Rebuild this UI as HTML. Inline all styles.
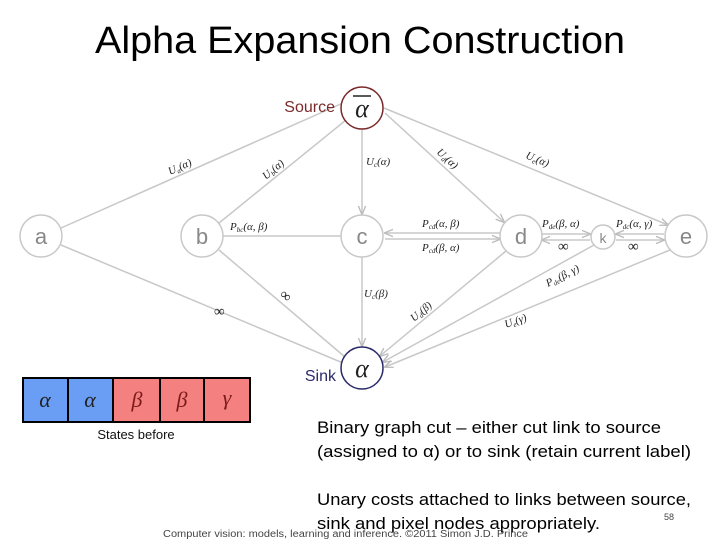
<!DOCTYPE html>
<html><head><meta charset="utf-8"><style>
html,body{margin:0;padding:0;background:#fff;width:720px;height:540px;overflow:hidden}
svg{display:block}
.t{font-family:"Liberation Sans",sans-serif}
.m{font-family:"Liberation Serif",serif;font-style:italic;font-size:11px;fill:#222}
</style></head><body>
<svg width="720" height="540" viewBox="0 0 720 540" xmlns="http://www.w3.org/2000/svg">
<defs><marker id="ar" viewBox="0 0 10 10" refX="9" refY="5" markerWidth="6" markerHeight="6" orient="auto"><path d="M0,1 L10,5 L0,9" fill="none" stroke="#bbb" stroke-width="1.5"/></marker></defs>
<text x="360" y="53" text-anchor="middle" class="t" font-size="38" fill="#000" textLength="530" lengthAdjust="spacingAndGlyphs">Alpha Expansion Construction</text>
<g stroke="#c8c8c8" stroke-width="1.5" fill="none">
<line x1="61" y1="228" x2="343" y2="103"/>
<line x1="219" y1="223" x2="346" y2="120"/>
<line x1="223" y1="236" x2="341" y2="236"/>
<line x1="61" y1="245" x2="343" y2="363"/>
<line x1="219" y1="250" x2="345" y2="357"/>
<line x1="362" y1="129" x2="362" y2="214" marker-end="url(#ar)"/>
<line x1="385" y1="113" x2="504" y2="222" marker-end="url(#ar)"/>
<line x1="384" y1="108" x2="668" y2="225" marker-end="url(#ar)"/>
<line x1="362" y1="257" x2="362" y2="346" marker-end="url(#ar)"/>
<line x1="506" y1="251" x2="380" y2="356" marker-end="url(#ar)"/>
<line x1="594" y1="245" x2="383" y2="362" marker-end="url(#ar)"/>
<line x1="670" y1="250" x2="385" y2="367" marker-end="url(#ar)"/>
<line x1="500" y1="233" x2="385" y2="233" marker-end="url(#ar)"/>
<line x1="385" y1="239" x2="500" y2="239" marker-end="url(#ar)"/>
<line x1="542" y1="234" x2="590" y2="234" marker-end="url(#ar)"/>
<line x1="590" y1="240" x2="542" y2="240" marker-end="url(#ar)"/>
<line x1="664" y1="234" x2="616" y2="234" marker-end="url(#ar)"/>
<line x1="616" y1="240" x2="664" y2="240" marker-end="url(#ar)"/>
</g>
<g fill="#fff" stroke="#c8c8c8" stroke-width="1.5">
<circle cx="41" cy="236" r="21"/><circle cx="202" cy="236" r="21"/><circle cx="362" cy="236" r="21"/>
<circle cx="521" cy="236" r="21"/><circle cx="603" cy="237" r="12"/><circle cx="686" cy="236" r="21"/>
</g>
<circle cx="362" cy="108" r="21" fill="#fff" stroke="#7a2a2a" stroke-width="1.5"/>
<circle cx="362" cy="368" r="21" fill="#fff" stroke="#2a2a6a" stroke-width="1.5"/>
<g class="t" font-size="22" fill="#888" text-anchor="middle">
<text x="41" y="244">a</text><text x="202" y="244">b</text><text x="362" y="244">c</text><text x="521" y="244">d</text><text x="686" y="244">e</text>
<text x="603" y="243" font-size="14">k</text>
</g>
<text x="362" y="117" text-anchor="middle" font-family="Liberation Serif,serif" font-style="italic" font-size="26" fill="#222">α</text>
<line x1="353" y1="96" x2="371" y2="96" stroke="#222" stroke-width="1.5"/>
<text x="362" y="377" text-anchor="middle" font-family="Liberation Serif,serif" font-style="italic" font-size="26" fill="#222">α</text>
<text x="335" y="112" text-anchor="end" class="t" font-size="16" fill="#7a2a2a">Source</text>
<text x="336" y="381" text-anchor="end" class="t" font-size="16" fill="#2a2a6a">Sink</text>
<g class="m">
<text transform="translate(170,175) rotate(-24)">U<tspan font-size="7" dy="2">a</tspan><tspan dy="-2">(α)</tspan></text>
<text transform="translate(266,180) rotate(-40)">U<tspan font-size="7" dy="2">b</tspan><tspan dy="-2">(α)</tspan></text>
<text x="366" y="165">U<tspan font-size="7" dy="2">c</tspan><tspan dy="-2">(α)</tspan></text>
<text transform="translate(436,153) rotate(42)">U<tspan font-size="7" dy="2">d</tspan><tspan dy="-2">(α)</tspan></text>
<text transform="translate(525,158) rotate(22)">U<tspan font-size="7" dy="2">e</tspan><tspan dy="-2">(α)</tspan></text>
<text x="230" y="230">P<tspan font-size="7" dy="2">bc</tspan><tspan dy="-2">(α, β)</tspan></text>
<text x="422" y="227">P<tspan font-size="7" dy="2">cd</tspan><tspan dy="-2">(α, β)</tspan></text>
<text x="422" y="251">P<tspan font-size="7" dy="2">cd</tspan><tspan dy="-2">(β, α)</tspan></text>
<text x="542" y="227">P<tspan font-size="7" dy="2">de</tspan><tspan dy="-2">(β, α)</tspan></text>
<text x="616" y="227">P<tspan font-size="7" dy="2">dc</tspan><tspan dy="-2">(α, γ)</tspan></text>
<text x="558" y="251" font-style="normal" font-size="15">∞</text>
<text x="628" y="251" font-style="normal" font-size="15">∞</text>
<text transform="translate(548,287) rotate(-27)">P<tspan font-size="7" dy="2">de</tspan><tspan dy="-2">(β, γ)</tspan></text>
<text x="364" y="297">U<tspan font-size="7" dy="2">c</tspan><tspan dy="-2">(β)</tspan></text>
<text transform="translate(414,322) rotate(-40)">U<tspan font-size="7" dy="2">d</tspan><tspan dy="-2">(β)</tspan></text>
<text transform="translate(506,328) rotate(-20)">U<tspan font-size="7" dy="2">e</tspan><tspan dy="-2">(γ)</tspan></text>
<text x="214" y="316" font-style="normal" font-size="15">∞</text>
<text x="280" y="300" font-style="normal" font-size="15" transform="rotate(40 285 296)">∞</text>
</g>
<g stroke="#000" stroke-width="2">
<rect x="23" y="378" width="45" height="44" fill="#6a9ef5"/>
<rect x="68" y="378" width="45" height="44" fill="#6a9ef5"/>
<rect x="113" y="378" width="47" height="44" fill="#f58080"/>
<rect x="160" y="378" width="44" height="44" fill="#f58080"/>
<rect x="204" y="378" width="46" height="44" fill="#f58080"/>
</g>
<g font-family="Liberation Serif,serif" font-style="italic" font-size="22" fill="#222" text-anchor="middle">
<text x="45" y="407">α</text><text x="90" y="407">α</text>
<text x="137" y="407" fill="#7a1a1a">β</text><text x="182" y="407" fill="#7a1a1a">β</text><text x="227" y="405" fill="#7a1a1a">γ</text>
</g>
<text x="136" y="439" text-anchor="middle" class="t" font-size="13" fill="#111">States before</text>
<g class="t" font-size="17" fill="#000">
<text x="317" y="433" textLength="344" lengthAdjust="spacingAndGlyphs">Binary graph cut – either cut link to source</text>
<text x="317" y="457" textLength="374" lengthAdjust="spacingAndGlyphs">(assigned to α) or to sink (retain current label)</text>
<text x="317" y="505" textLength="374" lengthAdjust="spacingAndGlyphs">Unary costs attached to links between source,</text>
<text x="317" y="529" textLength="283" lengthAdjust="spacingAndGlyphs">sink and pixel nodes appropriately.</text>
</g>
<text x="163" y="537" class="t" font-size="10" fill="#444" textLength="365" lengthAdjust="spacingAndGlyphs">Computer vision: models, learning and inference. ©2011 Simon J.D. Prince</text>
<text x="664" y="520" class="t" font-size="9" fill="#444">58</text>
</svg>
</body></html>
